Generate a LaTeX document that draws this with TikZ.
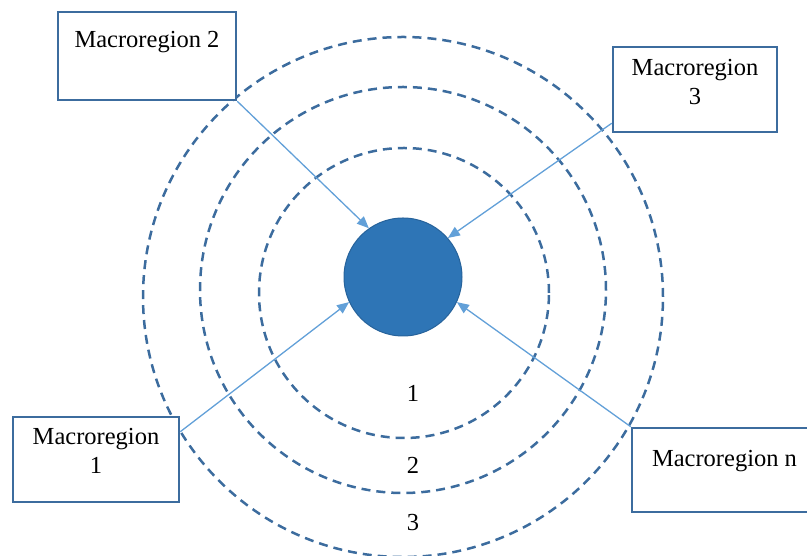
\documentclass[tikz,border=0pt]{standalone}
\usepackage{fontspec}
\setmainfont{Liberation Serif}
\usetikzlibrary{arrows.meta}
\usetikzlibrary{positioning}
\definecolor{ringblue}{RGB}{60,108,158}
\definecolor{hubblue}{RGB}{46,117,182}
\definecolor{arrowblue}{RGB}{98,160,216}
\tikzset{reg/.style={draw=ringblue,line width=2.5pt,fill=white,inner sep=0pt}}
\tikzset{t/.style={font=\fontsize{24.5}{29}\selectfont,align=center,inner sep=0pt}}
\tikzset{ring/.style={draw=ringblue,line width=2.5pt,dash pattern=on 9pt off 6pt}}
\tikzset{feed/.style={draw=arrowblue,line width=1.3pt,-{Triangle[length=12pt,width=10pt]}}}

\begin{document}
\begin{tikzpicture}[x=1pt,y=1pt]
  \clip (0,0) rectangle (807,556);
  \useasboundingbox (0,0) rectangle (807,556);
  % rings
  \draw [ring] (404,263) circle [radius=145];
  \draw [ring] (403,266) circle [radius=203];
  \draw [ring] (403,259) circle [radius=260];
  \node (r1) [t] at (413,163) {1};
  \node (r2) [t] at (413,91) {2};
  \node (r3) [t] at (413,33) {3};
  % centre
  \node (hub) [circle, fill=hubblue, draw=hubblue!85!black, line width=1pt,
    minimum size=118pt, inner sep=0pt] at (403,279) {};
  % macroregions
  \node (m2) [reg, minimum width=178pt, minimum height=88pt] at (147,500) {};
  \node (m2 text) [t, below=20.5pt of m2.north] {Macroregion 2};
  \node (m3) [reg, minimum width=164pt, minimum height=85pt] at (695,466.5) {};
  \node (m3 text) [t, below=13.5pt of m3.north] {Macroregion\\3};
  \node (m1) [reg, minimum width=166pt, minimum height=85pt] at (96,96.5) {};
  \node (m1 text) [t, below=12pt of m1.north] {Macroregion\\1};
  \node (mn) [reg, minimum width=185pt, minimum height=84pt] at (724.5,86) {};
  \node (mn text) [t, below=23.5pt of mn.north] {Macroregion n};
  % links
  \draw [feed] (m2.south east) -- (hub.125);
  \draw [feed] ([yshift=10pt]m3.south west) -- (hub.41);
  \draw [feed] ([yshift=-16pt]m1.north east) -- (hub.205);
  \draw [feed] (mn.north west) -- (hub.335);
\end{tikzpicture}
\end{document}
